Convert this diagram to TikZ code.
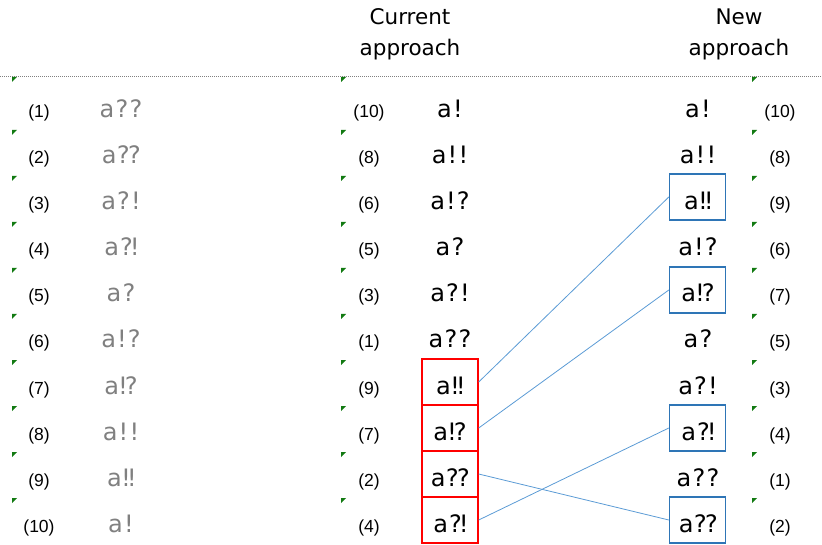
\documentclass[tikz,border=0pt]{standalone}
\usepackage{fontspec}
\setmainfont{DejaVu Sans}
\newfontfamily\symfont{DejaVu Sans}[LetterSpace=5]
\newfontfamily\numfont{Liberation Sans}
\definecolor{flaggreen}{HTML}{127A12}
\definecolor{boxblue}{HTML}{2E75B6}
\definecolor{linkblue}{HTML}{5B9BD5}
\definecolor{oldgray}{HTML}{808080}
\tikzset{
  symtxt/.style={anchor=base, inner sep=0pt, font=\symfont\fontsize{24}{28}\selectfont},
  numtxt/.style={anchor=base, inner sep=0pt, font=\numfont\fontsize{17.5}{20}\selectfont},
  headtxt/.style={anchor=base, inner sep=0pt, font=\fontsize{21.5}{26}\selectfont},
  cellbox/.style={draw, line width=1.4pt, minimum width=56pt, minimum height=46pt, inner sep=0pt},
  redbox/.style={cellbox, draw=red},
  bluebox/.style={cellbox, draw=boxblue},
  link/.style={draw=linkblue, line width=0.8pt},
  flag/.style={fill=flaggreen, draw=none},
  rule/.style={draw=gray, line width=0.7pt, dash pattern=on 1pt off 1pt}
}
\begin{document}
\begin{tikzpicture}[x=1pt, y=-1pt]
\useasboundingbox (0,0) rectangle (822,545);

% column headings
\node[headtxt] (h1a) at (410,25) {Current};
\node[headtxt] (h1b) at (410,56) {approach};
\node[headtxt] (h2a) at (739,25) {New};
\node[headtxt] (h2b) at (739,56) {approach};

% header rule
\coordinate (ruleL) at (0,76);
\coordinate (ruleR) at (822,76);
\draw[rule] (ruleL) -- (ruleR);

% small green corner flags of the cells
\foreach \r in {1,...,10}{
  \pgfmathsetmacro{\top}{\r==1 ? 77 : 130+46*(\r-2)}
  \foreach \xx in {12,341,752}{
    \fill[flag] (\xx,\top) -- ++(5,0) -- ++(-5,5) -- cycle;
  }
}

% original order
\foreach \r/\s in {1/a??,2/a⁇,3/a?!,4/a⁈,5/a?,6/a!?,7/a⁉,8/a!!,9/a‼,10/a!}{
  \pgfmathsetmacro{\bl}{118+46*(\r-1)}
  \node[numtxt] (Ln\r) at (39,\bl) {(\r)};
  \node[symtxt, text=oldgray] (L\r) at (121,\bl) {\s};
}

% current approach
\foreach \r/\n/\s in {1/10/a!,2/8/a!!,3/6/a!?,4/5/a?,5/3/a?!,6/1/a??,7/9/a‼,8/7/a⁉,9/2/a⁇,10/4/a⁈}{
  \pgfmathsetmacro{\bl}{118+46*(\r-1)}
  \node[numtxt] (Cn\r) at (369,\bl) {(\n)};
  \node[symtxt] (C\r) at (450,\bl) {\s};
}

% new approach
\foreach \r/\n/\s in {1/10/a!,2/8/a!!,3/9/a‼,4/6/a!?,5/7/a⁉,6/5/a?,7/3/a?!,8/4/a⁈,9/1/a??,10/2/a⁇}{
  \pgfmathsetmacro{\bl}{118+46*(\r-1)}
  \node[numtxt] (Nn\r) at (780,\bl) {(\n)};
  \node[symtxt] (N\r) at (698,\bl) {\s};
}

% highlighted cells
\node[redbox] (cb7) at (450,382) {};
\node[redbox] (cb8) at (450,428) {};
\node[redbox] (cb9) at (450,474) {};
\node[redbox] (cb10) at (450,520) {};
\node[bluebox] (nb3) at (697.5,197) {};
\node[bluebox] (nb5) at (697.5,290) {};
\node[bluebox] (nb8) at (697.5,428) {};
\node[bluebox] (nb10) at (697.5,520) {};

% moves between the two orderings
\draw[link] (cb7.east) -- (nb3.west);
\draw[link] (cb8.east) -- (nb5.west);
\draw[link] (cb9.east) -- (nb10.west);
\draw[link] (cb10.east) -- (nb8.west);
\end{tikzpicture}
\end{document}
